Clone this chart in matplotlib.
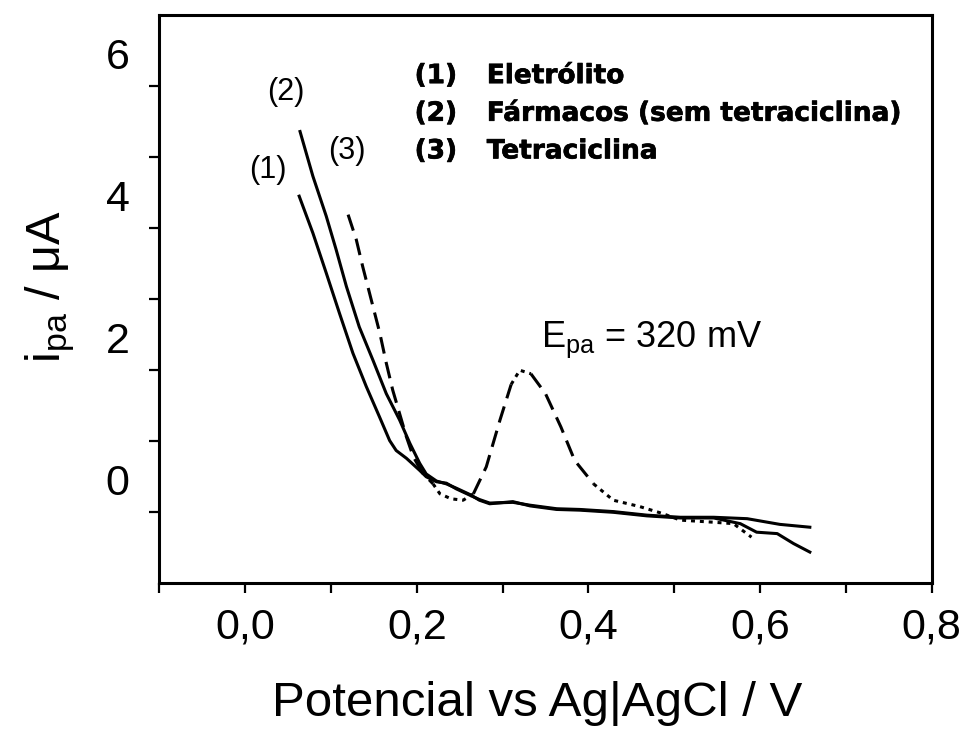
import matplotlib
matplotlib.use("Agg")
import matplotlib.pyplot as plt
import matplotlib.transforms as mtransforms
import matplotlib.patheffects as pe
import numpy as np

plt.rcParams['font.family'] = ['Liberation Sans', 'DejaVu Sans']
plt.rcParams['mathtext.fontset'] = 'custom'
plt.rcParams['mathtext.rm'] = 'Liberation Sans'
plt.rcParams['mathtext.it'] = 'Liberation Sans'

# (1) Eletrólito
x_eletrolito = [0.063, 0.079, 0.0945, 0.110, 0.1256, 0.1412, 0.1567, 0.1684, 0.176,
                0.188, 0.2034, 0.211, 0.223, 0.2345, 0.246, 0.262, 0.273, 0.285,
                0.312, 0.332, 0.363, 0.390, 0.429, 0.468, 0.507, 0.546, 0.585,
                0.623, 0.658]
y_eletrolito = [4.45, 3.93, 3.37, 2.80, 2.24, 1.77, 1.34, 1.01, 0.87,
                0.76, 0.59, 0.50, 0.43, 0.41, 0.33, 0.24, 0.18, 0.13,
                0.14, 0.10, 0.05, 0.04, 0.01, -0.04, -0.07, -0.07, -0.09,
                -0.17, -0.21]

# (2) Fármacos (sem tetraciclina)
x_farmacos = [0.064, 0.079, 0.0945, 0.106, 0.118, 0.133, 0.149, 0.1645, 0.180, 0.192,
              0.2034, 0.211, 0.223, 0.2345, 0.246, 0.262, 0.273, 0.285, 0.312,
              0.332, 0.363, 0.390, 0.429, 0.468, 0.507, 0.546, 0.577, 0.596,
              0.620, 0.639, 0.658]
y_farmacos = [5.36, 4.73, 4.17, 3.70, 3.18, 2.61, 2.14, 1.67, 1.30, 0.97,
              0.69, 0.54, 0.44, 0.40, 0.34, 0.25, 0.17, 0.12, 0.15,
              0.09, 0.04, 0.03, 0.0, -0.05, -0.08, -0.08, -0.16, -0.28,
              -0.30, -0.44, -0.56]

# (3) Tetraciclina
x_tetra = [0.120, 0.1295, 0.137, 0.147, 0.157, 0.1645, 0.172, 0.180, 0.188, 0.196,
           0.207, 0.219, 0.227, 0.240, 0.254, 0.266, 0.281, 0.297, 0.310, 0.320,
           0.333, 0.350, 0.368, 0.384, 0.406, 0.429, 0.460, 0.487, 0.507, 0.546,
           0.569, 0.590]
y_tetra = [4.19, 3.84, 3.46, 2.99, 2.52, 2.10, 1.72, 1.39, 1.06, 0.78,
           0.55, 0.40, 0.26, 0.19, 0.17, 0.26, 0.64, 1.30, 1.80, 2.00,
           1.95, 1.67, 1.20, 0.73, 0.40, 0.17, 0.08, -0.02, -0.11, -0.14,
           -0.16, -0.35]

epa_mv = 320

x_ticks = [0.0, 0.2, 0.4, 0.6, 0.8]
x_tick_labels = ['0,0', '0,2', '0,4', '0,6', '0,8']
y_ticks = [0, 2, 4, 6]
y_tick_labels = ['0', '2', '4', '6']

legend_lines = [('(1)', 'Eletrólito'),
                ('(2)', 'Fármacos (sem tetraciclina)'),
                ('(3)', 'Tetraciclina')]

fig = plt.figure(figsize=(9.63, 7.47), dpi=100)
ax = fig.add_axes([0.1654, 0.2191, 0.8021, 0.7608])

lw = 2.2
ax.plot(x_eletrolito, y_eletrolito, color='black', lw=lw, solid_joinstyle='round')
ax.plot(x_farmacos, y_farmacos, color='black', lw=lw, solid_joinstyle='round')

# dashed trace: long dashes on steep parts, dots on the flatter parts
dash_long = (0, (5.5, 2.8))
dash_dot = (0, (1.3, 1.6))
pieces = [(0.0, 0.219, dash_long), (0.219, 0.266, dash_dot), (0.266, 0.310, dash_long),
          (0.310, 0.333, dash_dot), (0.333, 0.406, dash_long), (0.406, 0.7, dash_dot)]
xt = np.array(x_tetra)
yt = np.array(y_tetra)
for a, b, ls in pieces:
    m = (xt >= a) & (xt <= b)
    ax.plot(xt[m], yt[m], color='black', lw=lw, linestyle=ls, dash_capstyle='butt')

ax.set_xlim(-0.1, 0.8)
ax.set_ylim(-1, 7)

ax.set_xticks(x_ticks)
ax.set_xticklabels(x_tick_labels)
ax.set_xticks([-0.1, 0.1, 0.3, 0.5, 0.7], minor=True)
ax.set_yticks(y_ticks)
ax.set_yticklabels(y_tick_labels)
ax.set_yticks([1, 3, 5], minor=True)

for s in ax.spines.values():
    s.set_linewidth(2.2)
ax.tick_params(which='both', direction='out', length=7.5, width=1.6, labelsize=31)
ax.tick_params(axis='x', which='both', pad=10)
ax.tick_params(axis='y', which='both', pad=14)
ax.tick_params(which='both', top=False, right=False)

# y tick labels sit somewhat above their tick marks
offset = mtransforms.ScaledTranslation(0, 0.33, fig.dpi_scale_trans)
for lab in ax.get_yticklabels():
    lab.set_transform(lab.get_transform() + offset)

ax.set_xlabel('Potencial vs Ag|AgCl / V', fontsize=35.5)
ax.xaxis.set_label_coords(0.489, -0.172)
ax.set_ylabel(r'i$_{\mathregular{pa}}$ / μA', fontsize=35)
ax.yaxis.set_label_coords(-0.107, 0.523)

ax.text(0.047, 5.92, '(2)', fontsize=22, ha='center', va='center')
ax.text(0.026, 4.82, '(1)', fontsize=22, ha='center', va='center')
ax.text(0.119, 5.08, '(3)', fontsize=22, ha='center', va='center')

ax.text(0.3446, 2.33, r'E$_{\mathregular{pa}}$ = %d mV' % epa_mv, fontsize=26,
        ha='left', va='baseline')

# heavy text block naming the three traces
heavy = [pe.withStroke(linewidth=0.5, foreground='black')]
for i, (num, name) in enumerate(legend_lines):
    yy = 6.14 - 0.53 * i
    ax.text(0.1975, yy, num, fontsize=19, fontweight='bold', family='DejaVu Sans',
            ha='left', va='center', path_effects=heavy)
    ax.text(0.2816, yy, name, fontsize=19, fontweight='bold', family='DejaVu Sans',
            ha='left', va='center', path_effects=heavy)

fig.savefig('out.png', dpi=100)
